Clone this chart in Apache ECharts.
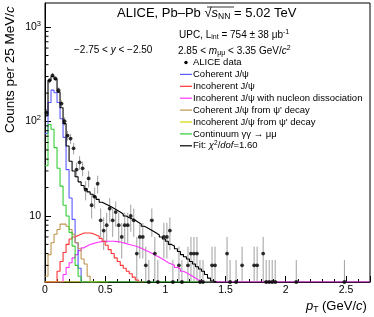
<!DOCTYPE html>
<html><head><meta charset="utf-8">
<script src="https://cdn.jsdelivr.net/npm/echarts@6/dist/echarts.min.js"></script>
<style>html,body{margin:0;padding:0;background:#fff}#c{width:374px;height:317px}</style>
</head><body><div id="c"></div>
<script>
// ---- data (per 0.025 GeV/c bin, starting at pT = 0) ----
const binWidth = 0.025;
const xTicks = [0, 0.5, 1, 1.5, 2, 2.5];
const yTickLabels = ['10', '10{s|2}', '10{s|3}'];
const dataCounts = [124,272,309,285,215,155,101,71,66,52,31,37,32,19,25,13,16,22,9,7,8,12,9,11,8,6,8,8,10,9,
  4,6,6,3,2,9,4,2,1,6,6,7,2,1,3,2,1,3,4,4,4,2,2,1,0,3,3,1,0,1,4,2,0,2,1,3,0,1,0,3,3,1,4,2,2,2,2,0,1,0,0,1,0,2,0,0,1,0,0,0,0,1,0,0,0,0,0,0,0,2,0,0,0,0,0,0,0,0];
const coherent = [75,159,215,202,159,107,68,31,15.5,9.2,5.2,2.8,1.2,0.6,0.3,0];
const incoherent = [0,0,0,2.0,2.6,3.3,4.1,5.0,5.7,6.0,6.2,6.4,6.6,6.6,6.6,6.5,6.3,6.1,5.8,5.4,4.9,4.4,4.0,3.6,3.3,3.0,2.8,2.6,2.45,2.25,2.1,1.9,0];
const incohDiss = [0,0,0,0,0,1.5,2.4,2.85,3.2,3.6,3.9,4.3,4.6,4.8,5.0,5.1,5.2,5.3,5.35,5.4,5.4,5.4,5.4,5.35,5.3,5.2,5.1,5.0,4.9,4.8,
  4.7,4.55,4.4,4.25,4.1,3.95,3.8,3.65,3.5,3.35,3.2,3.1,3.0,2.85,2.75,2.6,2.5,2.4,2.3,2.2,2.1,2.05,1.95,1.85,1.75,1.65,1.5,1.3,1.1,0.9,0.7,0.5,0.3,0.2,0.1,0.05];
const cohPsi2S = [2.3,3.9,5.2,6.4,7.2,8.2,8.2,7.8,7.2,6.4,5.2,4.5,3.5,3.1,2.3,1.5,0.8,0.3];
const incohPsi2S = [0,0,0,0.3,0.5,0.7,0.9,1.0,1.1,1.1,1.1,1.0,0.9,0.8,0.7,0.6,0.5,0.4,0.3,0.2,0.1];
const continuum = [34,93,83,53,32,20.7,13,10,6.7,4.8,3.0,2.3,1.8,1.4,1.1,0.9,0.7,0.6,0.5,0.4,0.35,0.3,0.25,0.2,0.2,0.15,0.15,0.1,0.1,0.1,
  0.1,0.1,0.1,0.1,0.1,0.1,0.1,0.1,0.1,0.1,0.1,0.1,0.1,0.1,0.1,0.1,0.1,0.1,0.1,0.1,0.1,0.1,0.1,0.1,0.1,0.1];
const fit = [115,272,300,280,205,140,95,55,38,30,26,23,21,19.5,18,17,16,15,14,13.5,13,12.5,12,11.5,11,10.5,10,9.6,9.3,9.0,
  8.6,8.2,7.8,7.5,7.2,6.9,6.6,6.3,6.0,5.7,5.4,5.0,4.8,4.5,4.2,3.9,3.7,3.5,3.3,3.1,2.9,2.75,2.6,2.4,2.2,2.05,1.9];
const legendNames = ['ALICE data', 'Coherent J/ψ', 'Incoherent J/ψ', 'Incoherent J/ψ with nucleon dissociation',
  "Coherent J/ψ from ψ' decay", "Incoherent J/ψ from ψ' decay", 'Continuum γγ → μμ', 'Fit: {i|χ}{u|2}/{i|dof}=1.60'];

const Y_MIN = 2, Y_MAX = 1800, X_MAX = 2.7;
const nBins = Math.round(X_MAX / binWidth);
const C = {coh: '#5a5aff', incoh: '#ff3333', diss: '#ff33ff', cohP: '#bf9550', incohP: '#d6d600', cont: '#33cc33', fit: '#000'};

// step outline of a histogram; contents below the axis minimum are drawn on the frame (as ROOT does)
function histLine(vals, n) {
  const pts = [];
  for (let i = 0; i < n; i++) {
    const v = i < vals.length ? vals[i] : 0;
    pts.push([i * binWidth, Math.max(v, Y_MIN)]);
  }
  pts.push([n * binWidth, Y_MIN]);
  return pts;
}
const pts = dataCounts.map((n, i) => [(i + 0.5) * binWidth, n]);
const visiblePts = pts.filter(p => p[1] >= Y_MIN);
const minorVals = [];
[1, 10, 100, 1000].forEach(d => { for (let k = 2; k <= 9; k++) { const v = k * d; if (v > Y_MIN && v < Y_MAX) minorVals.push(v); } });

const chart = echarts.init(document.getElementById('c'), null, {renderer: 'canvas'});
const F = '"Liberation Sans", Arial, sans-serif';
function hist(name, vals, color, z, n) {
  return {name, type: 'line', step: 'end', data: histLine(vals, n || vals.length), showSymbol: false, symbol: 'none',
    lineStyle: {color, width: 1.1}, itemStyle: {color}, clip: true, z, animation: false, silent: true};
}
const legendColors = [null, C.coh, C.incoh, C.diss, C.cohP, C.incohP, C.cont, C.fit];
const legendGraphics = [];
legendNames.forEach((n, k) => {
  const y = 62.5 + 11.9 * k;
  if (k === 0) legendGraphics.push({type: 'circle', shape: {cx: 186, cy: y, r: 1.7}, style: {fill: '#000'}});
  else legendGraphics.push({type: 'line', shape: {x1: 180, y1: y, x2: 192, y2: y}, style: {stroke: legendColors[k], lineWidth: 1.2}});
  legendGraphics.push({type: 'text', x: 193, y: y, style: {text: n, font: '9.5px ' + F, fill: '#000', textVerticalAlign: 'middle',
    rich: {i: {fontStyle: 'italic', fontSize: 9.5, fontFamily: F}, u: {fontSize: 6.5, padding: [0, 0, 6, 0], fontFamily: F}}}});
});

const option = {
  animation: false,
  grid: {left: 45, right: 4, top: 3, bottom: 35, show: true, borderColor: '#000', borderWidth: 1, outerBoundsMode: 'none', containLabel: false},
  xAxis: {type: 'value', min: 0, max: X_MAX, interval: 0.5,
    axisLine: {lineStyle: {color: '#000'}},
    axisTick: {inside: true, length: 6, lineStyle: {color: '#000'}},
    minorTick: {show: true, splitNumber: 5, length: 3, lineStyle: {color: '#000'}},
    splitLine: {show: false},
    axisLabel: {showMaxLabel: false, fontFamily: F, fontSize: 10.5, color: '#000', margin: 3,
      formatter: v => xTicks.indexOf(+v.toFixed(3)) >= 0 ? String(+v.toFixed(3)) : ''}},
  yAxis: {type: 'log', logBase: 10, min: Y_MIN, max: Y_MAX,
    axisLine: {lineStyle: {color: '#000'}},
    axisTick: {inside: true, length: 6, lineStyle: {color: '#000'}},
    splitLine: {show: false},
    axisLabel: {showMinLabel: false, showMaxLabel: false, fontFamily: F, fontSize: 10.5, color: '#000', margin: 4,
      formatter: v => { const e = Math.round(Math.log10(v)); return (e >= 1 && e <= 3) ? yTickLabels[e - 1] : ''; },
      rich: {s: {fontSize: 7.5, verticalAlign: 'bottom', padding: [0, 0, 7, 0], fontFamily: F}}}},
  graphic: [
    {type: 'text', x: 117, y: 6, style: {text: 'ALICE, Pb–Pb √{i|s}{s|NN} = 5.02 TeV', font: '13px ' + F, fill: '#000',
      rich: {i: {fontStyle: 'italic', fontSize: 13, fontFamily: F}, s: {fontSize: 8.5, padding: [6, 0, 0, 0], fontFamily: F}}}},
    {type: 'line', shape: {x1: 207, y1: 7, x2: 234, y2: 7}, style: {stroke: '#000', lineWidth: 0.8}},
    {type: 'text', x: 179, y: 29, style: {text: 'UPC, L{s|int} = 754 ± 38 μb{u|-1}', font: '10px ' + F, fill: '#000',
      rich: {s: {fontSize: 7, padding: [5, 0, 0, 0], fontFamily: F}, u: {fontSize: 7, padding: [0, 0, 5, 0], fontFamily: F}}}},
    {type: 'text', x: 74, y: 45, style: {text: '−2.75 < {i|y} < −2.50', font: '10px ' + F, fill: '#000',
      rich: {i: {fontStyle: 'italic', fontSize: 10, fontFamily: F}}}},
    {type: 'text', x: 178, y: 45, style: {text: '2.85 < {i|m}{s|μμ} < 3.35 GeV/{i|c}{u|2}', font: '10px ' + F, fill: '#000',
      rich: {i: {fontStyle: 'italic', fontSize: 10, fontFamily: F}, s: {fontSize: 7, padding: [5, 0, 0, 0], fontFamily: F}, u: {fontSize: 7, padding: [0, 0, 5, 0], fontFamily: F}}}},
    {type: 'text', x: 306, y: 299, style: {text: '{i|p}{s|T} (GeV/{i|c})', font: '13px ' + F, fill: '#000',
      rich: {i: {fontStyle: 'italic', fontSize: 13, fontFamily: F}, s: {fontSize: 8.5, padding: [6, 0, 0, 0], fontFamily: F}}}},
    {type: 'text', x: 3, y: 133, rotation: Math.PI / 2, style: {text: 'Counts per 25 MeV/{i|c}', font: '13.5px ' + F, fill: '#000',
      textAlign: 'left', textVerticalAlign: 'top', rich: {i: {fontStyle: 'italic', fontSize: 13.5, fontFamily: F}}}}
  ].concat(legendGraphics),
  series: [
    {name: 'ALICE data err', type: 'custom', clip: true, z: 3, silent: true, data: pts.filter(p => p[1] > 0),
      renderItem: (params, api) => {
        const x = api.value(0), n = api.value(1), e = Math.sqrt(n);
        const lo = Math.max(n - e, Y_MIN * 0.999), hi = n + e;
        if (hi <= Y_MIN) return null;
        const p1 = api.coord([x, lo]), p2 = api.coord([x, hi]);
        return {type: 'line', shape: {x1: p1[0], y1: p1[1], x2: p2[0], y2: p2[1]}, style: {stroke: '#a0a0a0', lineWidth: 1}};
      }},
    {name: 'ALICE data', type: 'scatter', data: visiblePts, symbolSize: 3.8, itemStyle: {color: '#000'}, z: 10, clip: true, silent: true},
    hist('Incoherent J/ψ with nucleon dissociation', incohDiss, C.diss, 4, nBins),
    hist('Coherent J/ψ', coherent, C.coh, 5),
    hist('Incoherent J/ψ', incoherent, C.incoh, 5),
    hist("Coherent J/ψ from ψ' decay", cohPsi2S, C.cohP, 5),
    hist("Incoherent J/ψ from ψ' decay", incohPsi2S, C.incohP, 5),
    hist('Continuum γγ → μμ', continuum, C.cont, 6),
    hist('Fit', fit, C.fit, 7),
    {name: 'minor ticks', type: 'custom', clip: false, z: 8, data: minorVals.map(v => [0, v]), silent: true,
      renderItem: (params, api) => { const p = api.coord([0, api.value(1)]);
        return {type: 'line', shape: {x1: p[0], y1: p[1], x2: p[0] + 3.5, y2: p[1]}, style: {stroke: '#000', lineWidth: 1}}; }}
  ]
};
chart.setOption(option);
</script></body></html>
